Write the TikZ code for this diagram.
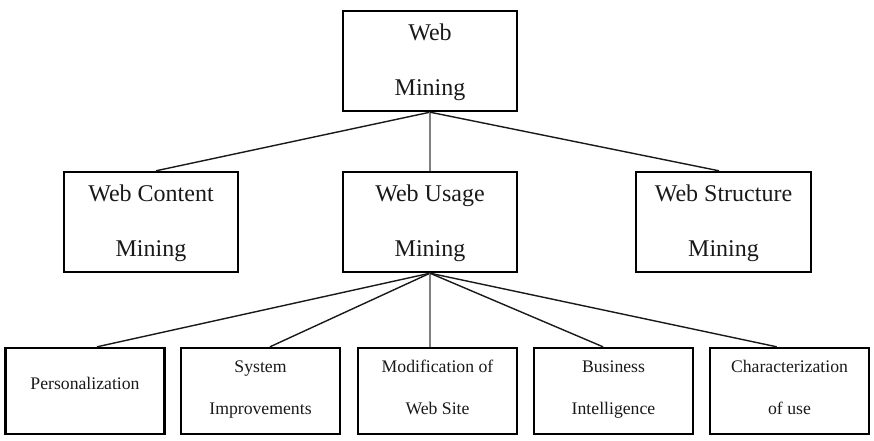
\documentclass[tikz,border=0pt]{standalone}
\usepackage{fontspec}
\setmainfont{Liberation Serif}
\newcommand{\bigtop}{\rule{0pt}{20pt}}
\newcommand{\leaftop}{\vphantom{Mdf}}
\newcommand{\leafbot}{\rule[-8pt]{0pt}{8pt}}
\begin{document}
\begin{tikzpicture}[x=1pt,y=-1pt,
  box/.style={draw=black, line width=2.4pt, inner sep=0pt, align=center, text=black!90,
    minimum width=174pt, minimum height=100pt, font=\fontsize{24}{55}\selectfont},
  leaf/.style={draw=black, line width=2.4pt, inner sep=0pt, align=center, text=black!90,
    minimum width=159pt, minimum height=86pt, font=\fontsize{17.7}{42}\selectfont},
  link/.style={line width=1.4pt, black!90},
  glink/.style={line width=1.4pt, gray}]
\useasboundingbox (0,0) rectangle (874,441);
\node[box] (top) at (430,61) {\bigtop Web\\Mining};
\node[box] (content) at (151,222) {\bigtop Web Content\\Mining};
\node[box] (usage) at (430,222) {\bigtop Web Usage\\Mining};
\node[box, minimum width=175pt] (structure) at (723.5,222) {\bigtop Web Structure\\Mining};
\node[leaf, text depth=16pt] (p1) at (85,391) {Personalization};
\node[leaf] (p2) at (260.5,391) {\leaftop System\\Improvements\leafbot};
\node[leaf] (p3) at (437.5,391) {\leaftop Modification of\\Web Site\leafbot};
\node[leaf] (p4) at (613.5,391) {\leaftop Business\\Intelligence\leafbot};
\node[leaf] (p5) at (789.5,391) {\leaftop Characterization\\of use\leafbot};
\draw[link] (top.south) -- ([xshift=5pt]content.north);
\draw[glink] (top.south) -- (usage.north);
\draw[link] (top.south) -- ([xshift=-4.5pt]structure.north);
\draw[link] (usage.south) -- ([xshift=12pt]p1.north);
\draw[link] (usage.south) -- ([xshift=9.5pt]p2.north);
\draw[glink] (usage.south) -- ([xshift=-7.5pt]p3.north);
\draw[link] (usage.south) -- ([xshift=-10.5pt]p4.north);
\draw[link] (usage.south) -- ([xshift=-12.8pt]p5.north);
\end{tikzpicture}
\end{document}
